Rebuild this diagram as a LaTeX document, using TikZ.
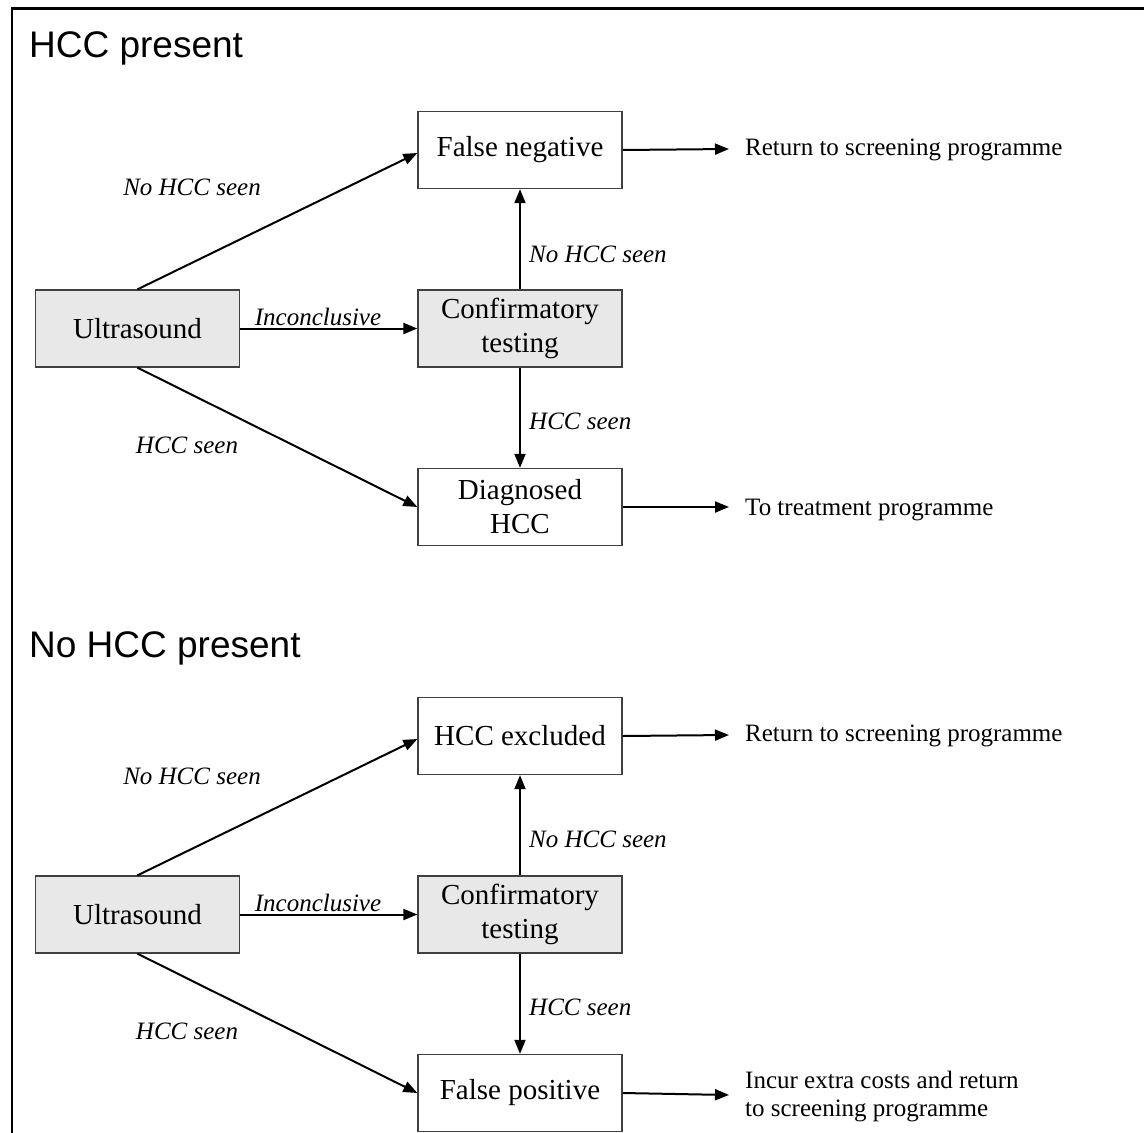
\documentclass[tikz,border=0pt]{standalone}
\usepackage{fontspec}
\setmainfont{Liberation Serif}
\newfontfamily\arialfont{Liberation Sans}
\usetikzlibrary{arrows.meta}
\tikzset{
  flowbox/.style={draw=black!75, line width=1.3pt, minimum width=204pt, minimum height=77pt, inner sep=0pt, align=center, font=\fontsize{29}{34}\selectfont},
  greybox/.style={flowbox, fill=black!9},
  whitebox/.style={flowbox, fill=white},
  flowarrow/.style={line width=2pt, -{Triangle[length=14pt,width=11pt]}},
  edgelabel/.style={font=\fontsize{25}{28}\selectfont\itshape, inner sep=0pt},
  outtext/.style={font=\fontsize{25}{28}\selectfont, inner sep=0pt, anchor=west, align=left},
  sectiontitle/.style={font=\arialfont\fontsize{37}{40}\selectfont, inner sep=0pt, anchor=base west}
}
\begin{document}
\begin{tikzpicture}[x=1pt,y=-1pt]
\useasboundingbox (0,0) rectangle (1144,1133);
\clip (0,0) rectangle (1144,1133);
% frame
\draw[line width=2.3pt] (12,1140) -- (12,8.5) -- (1150,8.5);

% ---------- HCC present ----------
\node[sectiontitle] (t1) at (29,57) {HCC present};
\node[whitebox] (fn) at (520,150) {False negative};
\node[greybox] (us1) at (137.5,328.5) {Ultrasound};
\node[greybox] (ct1) at (520,328.5) {Confirmatory\\testing};
\node[whitebox] (dh) at (520,507) {Diagnosed\\HCC};
\node[outtext] (r1) at (745,150) {Return to screening programme};
\node[outtext] (r2) at (745,510) {To treatment programme};
\coordinate (e1) at (729,149);
\coordinate (e2) at (729,507);

\draw[flowarrow] (us1.north) -- ([yshift=-3pt]fn.west);
\draw[flowarrow] (us1.east) -- (ct1.west);
\draw[flowarrow] (us1.south) -- (dh.west);
\draw[flowarrow] (ct1.north) -- (fn.south);
\draw[flowarrow] (ct1.south) -- (dh.north);
\draw[flowarrow] (fn.east) -- (e1);
\draw[flowarrow] (dh.east) -- (e2);

\node[edgelabel] (l1) at (192,187) {No HCC seen};
\node[edgelabel] (l2) at (318,317) {Inconclusive};
\node[edgelabel] (l3) at (187,445) {HCC seen};
\node[edgelabel, anchor=west] (l4) at (529,254) {No HCC seen};
\node[edgelabel, anchor=west] (l5) at (529,421) {HCC seen};

% ---------- No HCC present ----------
\node[sectiontitle] (t2) at (29,657) {No HCC present};
\node[whitebox] (ex) at (520,736) {HCC excluded};
\node[greybox] (us2) at (137.5,914.5) {Ultrasound};
\node[greybox] (ct2) at (520,914.5) {Confirmatory\\testing};
\node[whitebox] (fp) at (520,1093) {False positive};
\node[outtext] (r3) at (745,736) {Return to screening programme};
\node[outtext] (r4) at (745,1097) {Incur extra costs and return\\to screening programme};
\coordinate (e3) at (729,735);
\coordinate (e4) at (729,1095);

\draw[flowarrow] (us2.north) -- ([yshift=-3pt]ex.west);
\draw[flowarrow] (us2.east) -- (ct2.west);
\draw[flowarrow] (us2.south) -- (fp.west);
\draw[flowarrow] (ct2.north) -- (ex.south);
\draw[flowarrow] (ct2.south) -- (fp.north);
\draw[flowarrow] (ex.east) -- (e3);
\draw[flowarrow] (fp.east) -- (e4);

\node[edgelabel] (l6) at (192,776) {No HCC seen};
\node[edgelabel] (l7) at (318,903) {Inconclusive};
\node[edgelabel] (l8) at (187,1031) {HCC seen};
\node[edgelabel, anchor=west] (l9) at (529,839) {No HCC seen};
\node[edgelabel, anchor=west] (l10) at (529,1007) {HCC seen};
\end{tikzpicture}
\end{document}
